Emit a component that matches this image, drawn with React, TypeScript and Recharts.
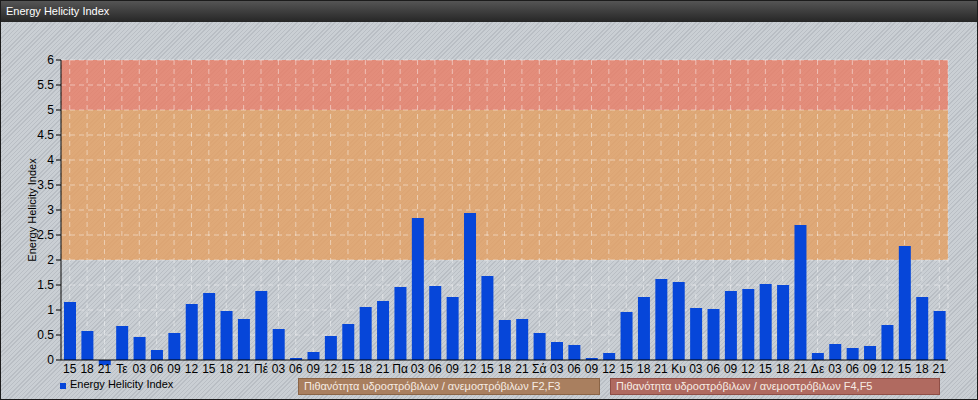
import { BarChart, Bar, XAxis, YAxis, CartesianGrid } from 'recharts';

// x categories: 3-hourly steps, day abbreviations at 00
const hours = [
  '15', '18', '21',
  'Τε', '03', '06', '09', '12', '15', '18', '21',
  'Πέ', '03', '06', '09', '12', '15', '18', '21',
  'Πα', '03', '06', '09', '12', '15', '18', '21',
  'Σά', '03', '06', '09', '12', '15', '18', '21',
  'Κυ', '03', '06', '09', '12', '15', '18', '21',
  'Δε', '03', '06', '09', '12', '15', '18', '21',
];
const ehi = [
  1.16, 0.58, -0.1,
  0.68, 0.46, 0.2, 0.54, 1.12, 1.34, 0.98, 0.82,
  1.38, 0.62, 0.04, 0.16, 0.48, 0.72, 1.06, 1.18,
  1.46, 2.84, 1.48, 1.26, 2.94, 1.68, 0.8, 0.82,
  0.54, 0.36, 0.3, 0.04, 0.14, 0.96, 1.26, 1.62,
  1.56, 1.04, 1.02, 1.38, 1.42, 1.52, 1.5, 2.7,
  0.14, 0.32, 0.24, 0.28, 0.7, 2.28, 1.26, 0.98,
];
const yTicks = [0, 0.5, 1, 1.5, 2, 2.5, 3, 3.5, 4, 4.5, 5, 5.5, 6];
const bands = [
  { from: 2, to: 5, fill: '#e59e5e' },
  { from: 5, to: 6, fill: '#ea7a62' },
];
const bandLabels = [
  'Πιθανότητα υδροστρόβιλων / ανεμοστρόβιλων F2,F3',
  'Πιθανότητα υδροστρόβιλων / ανεμοστρόβιλων F4,F5',
];

const data = hours.map((h, i) => ({ idx: i, hour: h, value: ehi[i] }));

// grid stripes from top to bottom, coloured by the band they fall in
const stripeFills = yTicks
  .slice(1)
  .reverse()
  .map((top) => bands.find((b) => top > b.from && top <= b.to)?.fill ?? 'none');

const FONT = '"Liberation Sans", Arial, sans-serif';
const BLUE = '#0646d9';

export default function App() {
  return (
    <div
      style={{
        position: 'absolute', left: 0, top: 0, width: 978, height: 400,
        boxSizing: 'border-box', border: '1px solid #1c1c1c', overflow: 'hidden',
        fontFamily: FONT,
        background: 'repeating-linear-gradient(135deg, #cacfd4 0px, #cacfd4 2px, #b9bec4 2px, #b9bec4 3px)',
      }}
    >
      {/* let the small negative bar hang below the axis like the original */}
      <style>{'.ehi-bars, .ehi-bars g { clip-path: none !important; }'}</style>
      <div style={{ position: 'absolute', left: -1, top: -1 }}>
        <BarChart
          width={978} height={400} data={data}
          margin={{ top: 60, right: 30, left: 0, bottom: 0 }}
          barSize={12}
        >
          <CartesianGrid
            stroke="rgba(255,255,255,0.45)" strokeDasharray="5 4"
            horizontalFill={stripeFills} fillOpacity={0.78}
          />
          <XAxis
            dataKey="idx" interval={0} height={40}
            tickFormatter={(i: number) => hours[i]}
            tick={{ fill: '#000', fontSize: 12, fontFamily: FONT }}
            tickLine={false} tickSize={2}
            axisLine={{ stroke: '#000' }}
          />
          <YAxis
            width={61} domain={[0, 6]} ticks={yTicks} allowDataOverflow
            tick={{ fill: '#000', fontSize: 12, fontFamily: FONT }}
            tickLine={{ stroke: '#000' }} tickSize={5}
            axisLine={{ stroke: '#000' }}
            label={{
              value: 'Energy Helicity Index', angle: -90, position: 'insideLeft',
              offset: 32, style: { fontSize: 11, fill: '#000', fontFamily: FONT, textAnchor: 'middle' },
            }}
          />
          <Bar dataKey="value" className="ehi-bars" fill={BLUE} isAnimationActive={false} />
        </BarChart>
      </div>

      {/* title bar */}
      <div
        style={{
          position: 'absolute', left: 0, top: 0, right: 0, height: 21,
          background: 'linear-gradient(#555555, #262626)',
          color: '#fff', fontSize: 11, lineHeight: '21px', paddingLeft: 5,
        }}
      >
        Energy Helicity Index
      </div>

      {/* legend */}
      <div style={{ position: 'absolute', left: 59, top: 377, fontSize: 11, color: '#000', display: 'flex', alignItems: 'center' }}>
        <span style={{ display: 'inline-block', width: 6, height: 6, background: BLUE, marginRight: 4, marginTop: 3 }} />
        Energy Helicity Index
      </div>
      {bandLabels.map((t, i) => (
        <div
          key={t}
          style={{
            position: 'absolute', left: i === 0 ? 297 : 609, top: 377,
            width: i === 0 ? 302 : 330, height: 17, boxSizing: 'border-box',
            background: i === 0 ? '#a97f5f' : '#b06a60',
            border: i === 0 ? '1px solid #8a6446' : '1px solid #8f4e46',
            color: '#f6ece4', fontSize: 11, lineHeight: '15px', paddingLeft: 5,
          }}
        >
          {t}
        </div>
      ))}
    </div>
  );
}
